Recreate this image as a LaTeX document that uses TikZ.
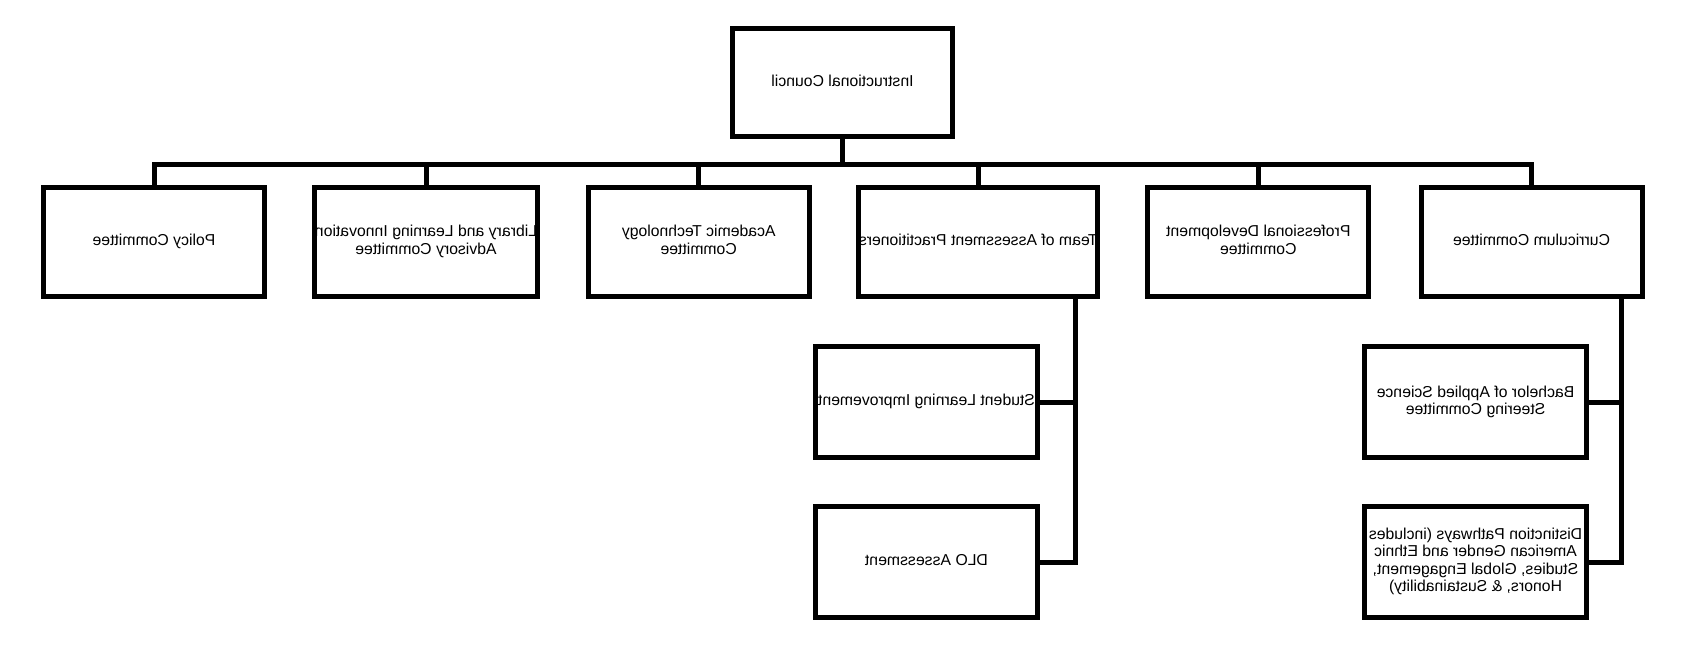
\documentclass[tikz,border=0pt]{standalone}
\usepackage{graphicx}
\usepackage{fontspec}
\setmainfont{Liberation Sans}
\newcommand{\mtext}[1]{\reflectbox{\begin{tabular}{@{}c@{}}#1\end{tabular}}}
\begin{document}
\begin{tikzpicture}[x=1pt,y=-1pt,
  box/.style={draw=black,line width=5pt,rectangle,inner sep=0pt,
    minimum width=221pt,minimum height=108.5pt,
    font=\fontsize{15.8}{17.5}\selectfont,text=black},
  subbox/.style={box,minimum width=222pt,minimum height=111pt},
  conn/.style={draw=black,line width=5pt,miter limit=10}]
\useasboundingbox (0,0) rectangle (1683,658);
\fill[white] (0,0) rectangle (1683,658);
% nodes
\node[box,minimum width=220pt] (ic) at (842.5,82.75) {\mtext{Instructional Council}};
\node[box] (policy) at (154,241.75) {\mtext{Policy Committee}};
\node[box] (lib) at (426,241.75) {\mtext{Library and Learning Innovation\\Advisory Committee}};
\node[box] (acad) at (698.7,241.75) {\mtext{Academic Technology\\Committee}};
\node[box,minimum width=235pt] (team) at (978.3,241.75) {\mtext{Team of Assessment Practitioners}};
\node[box] (prof) at (1258.3,241.75) {\mtext{Professional Development\\Committee}};
\node[box] (curr) at (1531.5,241.75) {\mtext{Curriculum Committee}};
\node[subbox] (sli) at (926.5,402.3) {\mtext{Student Learning Improvement}};
\node[subbox] (dlo) at (926.5,562) {\mtext{DLO Assessment}};
\node[subbox] (bach) at (1475.5,402.3) {\mtext{Bachelor of Applied Science\\Steering Committee}};
\node[subbox] (dist) at (1475.5,562) {\mtext{Distinction Pathways (includes\\American Gender and Ethnic\\Studies, Global Engagement,\\Honors, \& Sustainability)}};
% bus
\coordinate (bus) at (842.5,164.5);
\coordinate (tv) at (1075,296);
\coordinate (cv) at (1621.5,296);
\draw[conn] (ic.south) -- (ic.south |- bus);
\draw[conn] (policy.north) -- (policy.north |- bus) -- (curr.north |- bus) -- (curr.north);
\draw[conn] (lib.north) -- (lib.north |- bus);
\draw[conn] (acad.north) -- (acad.north |- bus);
\draw[conn] (team.north) -- (team.north |- bus);
\draw[conn] (prof.north) -- (prof.north |- bus);
% sub connectors
\draw[conn] (tv) |- (dlo.east);
\draw[conn] (sli.east) -- (sli.east -| tv);
\draw[conn] (cv) |- (dist.east);
\draw[conn] (bach.east) -- (bach.east -| cv);
\end{tikzpicture}
\end{document}
